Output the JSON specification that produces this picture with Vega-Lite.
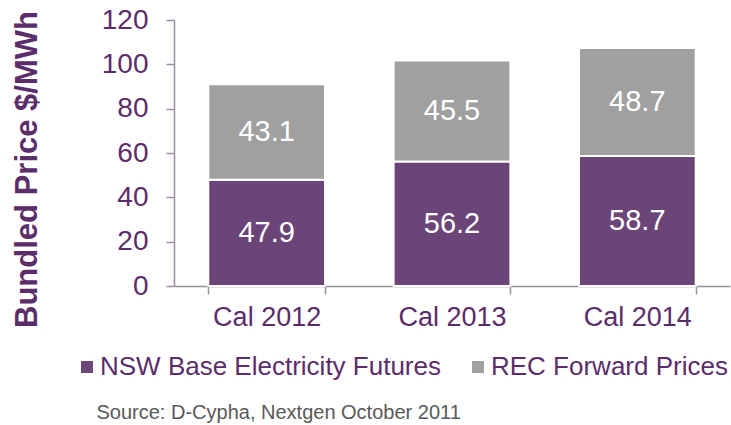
{
  "$schema": "https://vega.github.io/schema/vega-lite/v6.json",
  "width": 556,
  "height": 266,
  "autosize": "none",
  "padding": {"left": 174, "top": 20, "right": 1, "bottom": 139},
  "background": "white",
  "config": {
    "view": {"stroke": null},
    "font": "Liberation Sans"
  },
  "data": {
    "values": [
      {"cal": "Cal 2012", "series": "NSW Base Electricity Futures", "value": 47.9},
      {"cal": "Cal 2012", "series": "REC Forward Prices", "value": 43.1},
      {"cal": "Cal 2013", "series": "NSW Base Electricity Futures", "value": 56.2},
      {"cal": "Cal 2013", "series": "REC Forward Prices", "value": 45.5},
      {"cal": "Cal 2014", "series": "NSW Base Electricity Futures", "value": 58.7},
      {"cal": "Cal 2014", "series": "REC Forward Prices", "value": 48.7}
    ]
  },
  "transform": [
    {"stack": "value", "groupby": ["cal"], "sort": [{"field": "series", "order": "ascending"}], "as": ["y0", "y1"]},
    {"calculate": "(datum.y0 + datum.y1) / 2", "as": "ymid"}
  ],
  "encoding": {
    "x": {
      "field": "cal",
      "type": "nominal",
      "sort": null,
      "scale": {"paddingInner": 0.37, "paddingOuter": 0.185},
      "axis": {
        "labelAngle": 0,
        "labelFontSize": 27,
        "labelColor": "#5B2D6B",
        "labelPadding": 10,
        "domainColor": "#9A8FA1",
        "domainWidth": 1.5,
        "tickColor": "#9A8FA1",
        "tickWidth": 1.5,
        "tickSize": 8,
        "tickBand": "extent",
        "title": "Source: D-Cypha, Nextgen October 2011",
        "titleFontSize": 20,
        "titleFontWeight": "normal",
        "titleColor": "#595959",
        "titleAlign": "left",
        "titleAnchor": null,
        "titleBaseline": "alphabetic",
        "titleX": -78,
        "titleY": 132
      }
    }
  },
  "layer": [
    {
      "mark": {"type": "bar", "stroke": "white", "strokeWidth": 2},
      "encoding": {
        "y": {
          "field": "y1",
          "type": "quantitative",
          "scale": {"domain": [0, 120]},
          "axis": {
            "values": [0, 20, 40, 60, 80, 100, 120],
            "grid": false,
            "labelFontSize": 28,
            "labelColor": "#5B2D6B",
            "labelPadding": 18,
            "domainColor": "#9A8FA1",
            "domainWidth": 1.5,
            "tickColor": "#9A8FA1",
            "tickWidth": 1.5,
            "tickSize": 8,
            "title": "Bundled Price $/MWh",
            "titleFontSize": 31,
            "titleFontWeight": "bold",
            "titleColor": "#5B2D6B",
            "titleAlign": "center",
            "titleBaseline": "top",
            "titleAngle": -90,
            "titleX": -162,
            "titleY": 149
          }
        },
        "y2": {"field": "y0"},
        "color": {
          "field": "series",
          "type": "nominal",
          "scale": {"domain": ["NSW Base Electricity Futures", "REC Forward Prices"], "range": ["#6B4577", "#A0A0A0"]},
          "legend": {
            "title": null,
            "orient": "none",
            "direction": "horizontal",
            "legendX": -100,
            "legendY": 334,
            "symbolType": "square",
            "symbolSize": 144,
            "symbolStrokeWidth": 0,
            "labelFontSize": 26,
            "labelColor": "#5B2D6B",
            "labelOffset": 0,
            "labelLimit": 500,
            "columnPadding": 24
          }
        }
      }
    },
    {
      "mark": {"type": "text", "color": "white", "fontSize": 29, "baseline": "middle", "align": "center"},
      "encoding": {
        "y": {"field": "ymid", "type": "quantitative"},
        "text": {"field": "value", "type": "quantitative", "format": ".1f"}
      }
    }
  ]
}
